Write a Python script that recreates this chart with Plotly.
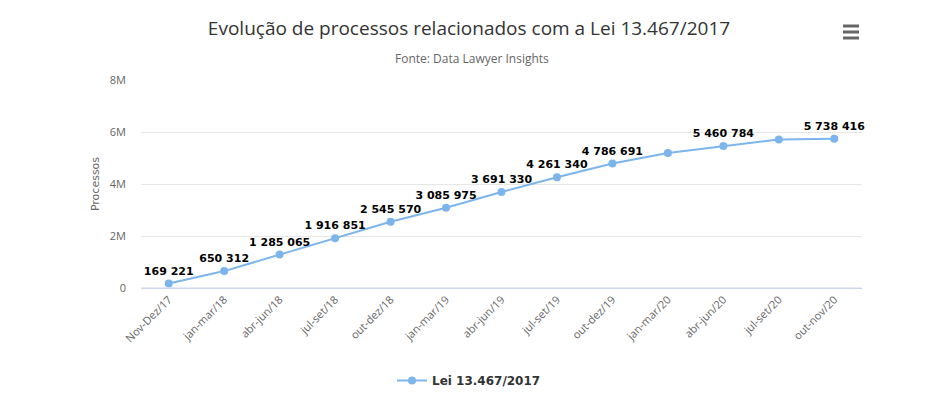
import plotly.graph_objects as go

categories = ["Nov-Dez/17", "jan-mar/18", "abr-jun/18", "jul-set/18", "out-dez/18",
              "jan-mar/19", "abr-jun/19", "jul-set/19", "out-dez/19", "jan-mar/20",
              "abr-jun/20", "jul-set/20", "out-nov/20"]
values = [169221, 650312, 1285065, 1916851, 2545570, 3085975, 3691330, 4261340,
          4786691, 5190000, 5460784, 5710000, 5738416]
# labels hidden in the reference (overlap) for these points
hidden_labels = {"jan-mar/20", "jul-set/20"}
y_ticks = [0, 2000000, 4000000, 6000000, 8000000]
y_tick_text = ["0", "2M", "4M", "6M", "8M"]

labels = ["" if c in hidden_labels else f"{v:,}".replace(",", " ")
          for c, v in zip(categories, values)]

fig = go.Figure()
fig.add_trace(go.Scatter(
    x=categories, y=values, mode="lines+markers+text", name="Lei 13.467/2017",
    line=dict(color="#7cb5ec", width=2),
    marker=dict(color="#7cb5ec", size=8),
    text=labels, textposition="top center",
    textfont=dict(family="DejaVu Sans", size=11, color="#000000", weight="bold"),
    cliponaxis=False,
))

fig.update_layout(
    width=938, height=393,
    paper_bgcolor="white", plot_bgcolor="white",
    margin=dict(l=141, r=76, t=80, b=105, autoexpand=False),
    title=dict(text="Evolução de processos relacionados com a Lei 13.467/2017",
               x=0.5, xanchor="center", xref="container", y=0.929, yanchor="middle",
               font=dict(family="Open Sans", size=19, color="#333333")),
    annotations=[dict(text="Fonte: Data Lawyer Insights", xref="paper", yref="paper",
                      x=(472 - 141) / 721, y=1.0, yanchor="middle", yshift=22, showarrow=False,
                      xanchor="center",
                      font=dict(family="Open Sans", size=12, color="#666666"))],
    showlegend=True,
    legend=dict(orientation="h", xref="container", x=0.5, xanchor="center",
                y=-0.375, yanchor="top",
                font=dict(family="DejaVu Sans", size=12, color="#333333", weight="bold")),
    xaxis=dict(type="category", range=[-0.5, len(categories) - 0.5], automargin=False,
               tickangle=-45, showgrid=False, showline=True, linecolor="#ccd6eb",
               ticks="", tickfont=dict(family="Open Sans", size=11, color="#666666")),
    yaxis=dict(range=[0, 8000000], tickvals=y_ticks, ticktext=y_tick_text, automargin=False,
               showgrid=True, gridcolor="#e6e6e6", zeroline=False, ticks="",
               ticklabelstandoff=14,
               tickfont=dict(family="Open Sans", size=11, color="#666666"),
               title=dict(text="Processos", standoff=7,
                          font=dict(family="DejaVu Sans", size=11, color="#666666"))),
    shapes=[dict(type="line", xref="paper", yref="paper", x0=0, x1=1, y0=0, y1=0,
                 line=dict(color="#ccd6eb", width=1))] + [
        dict(type="line", xref="paper", yref="paper",
             x0=(843 - 141) / 721, x1=(859 - 141) / 721,
             y0=(288 - ypx) / 208, y1=(288 - ypx) / 208,
             line=dict(color="#666666", width=3))
        for ypx in (26, 32, 38)
    ],
)

fig.write_html("out.html", config={"displayModeBar": False},
               post_script="document.body.style.margin='0';document.body.style.overflow='hidden';")
